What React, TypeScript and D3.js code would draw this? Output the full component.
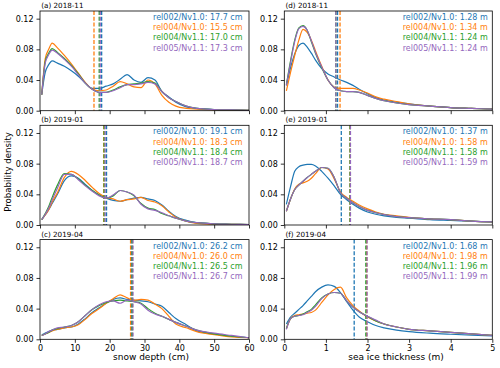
import { useEffect, useRef } from "react";
import * as d3 from "d3";

// products and colours (matplotlib tab10)
const products = ["rel002/Nv1.0", "rel004/Nv1.0", "rel004/Nv1.1", "rel005/Nv1.1"];
const COLORS = ["#1f77b4", "#ff7f0e", "#2ca02c", "#9467bd"];

// bin centres
const snowDepthBins = [0.5, 1.5, 2.5, 3.5, 5, 7, 9, 11, 13, 15, 17, 19, 21, 23, 25, 27, 29, 31, 33, 35, 37, 39, 42, 45, 50, 55, 60];
const iceThicknessBins = [0.05, 0.15, 0.25, 0.35, 0.45, 0.55, 0.65, 0.75, 0.9, 1.05, 1.2, 1.35, 1.5, 1.65, 1.8, 2.0, 2.2, 2.4, 2.7, 3.0, 3.5, 4.0, 4.5, 5.0];

// snow depth pdfs
const sd1811Rel002 = [0.021, 0.05, 0.06, 0.065, 0.062, 0.058, 0.052, 0.045, 0.036, 0.029, 0.029, 0.032, 0.035, 0.041, 0.047, 0.04, 0.037, 0.043, 0.04, 0.025, 0.018, 0.011, 0.005, 0.003, 0.0015, 0.001, 0.0005];
const sd1811Rel004 = [0.021, 0.068, 0.08, 0.088, 0.082, 0.072, 0.061, 0.049, 0.037, 0.028, 0.026, 0.027, 0.032, 0.038, 0.035, 0.031, 0.03, 0.04, 0.035, 0.02, 0.011, 0.006, 0.003, 0.002, 0.001, 0.0008, 0.0004];
const sd1811Rel004v11 = [0.021, 0.064, 0.075, 0.081, 0.076, 0.068, 0.059, 0.048, 0.036, 0.028, 0.024, 0.024, 0.027, 0.031, 0.034, 0.035, 0.036, 0.038, 0.036, 0.025, 0.017, 0.012, 0.006, 0.003, 0.0015, 0.001, 0.0005];
const sd1811Rel005 = [0.021, 0.062, 0.073, 0.079, 0.075, 0.067, 0.058, 0.047, 0.036, 0.028, 0.024, 0.024, 0.026, 0.03, 0.034, 0.034, 0.035, 0.037, 0.035, 0.025, 0.017, 0.012, 0.006, 0.003, 0.0015, 0.001, 0.0005];

const sd1901Rel002 = [0.007, 0.013, 0.02, 0.028, 0.04, 0.058, 0.064, 0.061, 0.053, 0.045, 0.039, 0.035, 0.032, 0.031, 0.033, 0.035, 0.036, 0.034, 0.032, 0.026, 0.018, 0.011, 0.006, 0.003, 0.0015, 0.001, 0.0005];
const sd1901Rel004 = [0.007, 0.013, 0.02, 0.03, 0.042, 0.062, 0.07, 0.066, 0.058, 0.049, 0.041, 0.036, 0.034, 0.031, 0.033, 0.034, 0.036, 0.032, 0.03, 0.025, 0.017, 0.01, 0.005, 0.002, 0.001, 0.0008, 0.0004];
const sd1901Rel004v11 = [0.007, 0.015, 0.024, 0.036, 0.052, 0.067, 0.066, 0.06, 0.052, 0.045, 0.039, 0.035, 0.038, 0.045, 0.043, 0.038, 0.028, 0.022, 0.02, 0.015, 0.012, 0.009, 0.005, 0.003, 0.0015, 0.001, 0.0005];
const sd1901Rel005 = [0.007, 0.014, 0.022, 0.033, 0.048, 0.066, 0.066, 0.059, 0.051, 0.044, 0.038, 0.035, 0.039, 0.045, 0.043, 0.039, 0.027, 0.021, 0.019, 0.016, 0.012, 0.009, 0.005, 0.003, 0.0015, 0.001, 0.0005];

const sd1904Rel002 = [0.006, 0.008, 0.01, 0.012, 0.013, 0.015, 0.016, 0.02, 0.027, 0.035, 0.041, 0.047, 0.052, 0.054, 0.052, 0.051, 0.05, 0.049, 0.046, 0.043, 0.035, 0.027, 0.019, 0.011, 0.007, 0.004, 0.002];
const sd1904Rel004 = [0.005, 0.007, 0.009, 0.011, 0.013, 0.015, 0.016, 0.019, 0.026, 0.034, 0.04, 0.047, 0.053, 0.058, 0.054, 0.051, 0.052, 0.051, 0.046, 0.04, 0.03, 0.02, 0.015, 0.01, 0.006, 0.003, 0.002];
const sd1904Rel004v11 = [0.005, 0.007, 0.009, 0.012, 0.014, 0.016, 0.018, 0.023, 0.031, 0.039, 0.044, 0.048, 0.05, 0.051, 0.05, 0.049, 0.047, 0.04, 0.034, 0.03, 0.026, 0.022, 0.017, 0.012, 0.007, 0.004, 0.002];
const sd1904Rel005 = [0.005, 0.007, 0.01, 0.012, 0.015, 0.016, 0.018, 0.023, 0.031, 0.039, 0.045, 0.049, 0.05, 0.047, 0.051, 0.049, 0.046, 0.038, 0.033, 0.03, 0.026, 0.022, 0.017, 0.012, 0.008, 0.005, 0.002];

// sea ice thickness pdfs
const sit1811Rel002 = [0.033, 0.056, 0.074, 0.085, 0.088, 0.083, 0.075, 0.066, 0.055, 0.048, 0.044, 0.04, 0.037, 0.033, 0.028, 0.022, 0.017, 0.014, 0.011, 0.009, 0.006, 0.004, 0.003, 0.002];
const sit1811Rel004 = [0.026, 0.05, 0.072, 0.092, 0.106, 0.102, 0.092, 0.078, 0.058, 0.04, 0.031, 0.029, 0.029, 0.029, 0.027, 0.023, 0.018, 0.015, 0.012, 0.009, 0.006, 0.004, 0.003, 0.002];
const sit1811Rel004v11 = [0.034, 0.065, 0.092, 0.108, 0.111, 0.105, 0.09, 0.075, 0.056, 0.04, 0.03, 0.026, 0.025, 0.025, 0.024, 0.02, 0.016, 0.013, 0.01, 0.008, 0.006, 0.004, 0.003, 0.002];
const sit1811Rel005 = [0.033, 0.063, 0.09, 0.107, 0.11, 0.105, 0.091, 0.076, 0.057, 0.04, 0.03, 0.026, 0.025, 0.025, 0.024, 0.02, 0.016, 0.013, 0.01, 0.008, 0.006, 0.004, 0.003, 0.002];

const sit1901Rel002 = [0.027, 0.05, 0.07, 0.076, 0.078, 0.079, 0.079, 0.077, 0.07, 0.061, 0.051, 0.04, 0.033, 0.027, 0.022, 0.017, 0.014, 0.012, 0.01, 0.009, 0.007, 0.006, 0.005, 0.004];
const sit1901Rel004 = [0.018, 0.034, 0.047, 0.053, 0.055, 0.057, 0.061, 0.067, 0.075, 0.073, 0.06, 0.043, 0.036, 0.031, 0.026, 0.021, 0.017, 0.014, 0.012, 0.01, 0.008, 0.007, 0.005, 0.004];
const sit1901Rel004v11 = [0.018, 0.034, 0.046, 0.052, 0.057, 0.062, 0.066, 0.07, 0.075, 0.074, 0.062, 0.042, 0.035, 0.029, 0.024, 0.019, 0.016, 0.0135, 0.011, 0.0095, 0.008, 0.007, 0.005, 0.004];
const sit1901Rel005 = [0.018, 0.034, 0.046, 0.052, 0.057, 0.062, 0.066, 0.07, 0.075, 0.074, 0.062, 0.042, 0.035, 0.029, 0.024, 0.019, 0.016, 0.0135, 0.011, 0.0095, 0.008, 0.007, 0.005, 0.004];

const sit1904Rel002 = [0.02, 0.029, 0.034, 0.039, 0.044, 0.05, 0.056, 0.062, 0.068, 0.071, 0.069, 0.061, 0.049, 0.038, 0.029, 0.023, 0.018, 0.015, 0.012, 0.01, 0.008, 0.0066, 0.0054, 0.0044];
const sit1904Rel004 = [0.014, 0.027, 0.031, 0.032, 0.033, 0.034, 0.035, 0.038, 0.048, 0.058, 0.065, 0.068, 0.054, 0.044, 0.037, 0.029, 0.024, 0.02, 0.016, 0.013, 0.011, 0.009, 0.007, 0.005];
const sit1904Rel004v11 = [0.014, 0.027, 0.03, 0.031, 0.033, 0.036, 0.039, 0.045, 0.054, 0.059, 0.061, 0.06, 0.05, 0.042, 0.036, 0.03, 0.024, 0.02, 0.016, 0.013, 0.011, 0.009, 0.007, 0.005];
const sit1904Rel005 = [0.013, 0.027, 0.03, 0.031, 0.032, 0.035, 0.038, 0.043, 0.053, 0.059, 0.061, 0.06, 0.05, 0.042, 0.036, 0.03, 0.025, 0.02, 0.016, 0.013, 0.011, 0.009, 0.007, 0.005];

// means (dashed lines + legend)
const sdMeans1811 = [17.7, 15.5, 17.0, 17.3];
const sdMeans1901 = [19.1, 18.3, 18.4, 18.7];
const sdMeans1904 = [26.2, 26.0, 26.5, 26.7];
const sitMeans1811 = [1.28, 1.34, 1.24, 1.24];
const sitMeans1901 = [1.37, 1.58, 1.58, 1.59];
const sitMeans1904 = [1.68, 1.98, 1.96, 1.99];

const titles = ["(a) 2018-11", "(b) 2019-01", "(c) 2019-04", "(d) 2018-11", "(e) 2019-01", "(f) 2019-04"];
const yTicks = [0, 0.04, 0.08, 0.12];
const sdTicks = [0, 10, 20, 30, 40, 50, 60];
const sitTicks = [0, 1, 2, 3, 4, 5];

const panels = [
  { col: 0, row: 0, series: [sd1811Rel002, sd1811Rel004, sd1811Rel004v11, sd1811Rel005], means: sdMeans1811 },
  { col: 0, row: 1, series: [sd1901Rel002, sd1901Rel004, sd1901Rel004v11, sd1901Rel005], means: sdMeans1901 },
  { col: 0, row: 2, series: [sd1904Rel002, sd1904Rel004, sd1904Rel004v11, sd1904Rel005], means: sdMeans1904 },
  { col: 1, row: 0, series: [sit1811Rel002, sit1811Rel004, sit1811Rel004v11, sit1811Rel005], means: sitMeans1811 },
  { col: 1, row: 1, series: [sit1901Rel002, sit1901Rel004, sit1901Rel004v11, sit1901Rel005], means: sitMeans1901 },
  { col: 1, row: 2, series: [sit1904Rel002, sit1904Rel004, sit1904Rel004v11, sit1904Rel005], means: sitMeans1904 },
];

const FONT = "DejaVu Sans";
const colLeft = [40, 284.3];
const colWidth = [209, 208];
const rowTop = [11, 125.3, 239.6];
const rowHeight = 99.7;
const legendRight = [6.5, 4.5];

export default function App() {
  const svgRef = useRef<SVGSVGElement>(null);

  useEffect(() => {
    if (!svgRef.current) return;
    const svg = d3.select(svgRef.current);
    svg.selectAll("*").remove();

    panels.forEach((p, i) => {
      const x0 = colLeft[p.col];
      const y0 = rowTop[p.row];
      const w = colWidth[p.col];
      const bins = p.col === 0 ? snowDepthBins : iceThicknessBins;

      const x = d3.scaleLinear().domain(p.col === 0 ? [0, 60] : [0, 5]).range([x0, x0 + w]);
      const y = d3.scaleLinear().domain([0, 0.13]).range([y0 + rowHeight, y0]);

      const g = svg.append("g");
      const clipId = `clip-${i}`;
      g.append("clipPath").attr("id", clipId)
        .append("rect").attr("x", x0).attr("y", y0).attr("width", w).attr("height", rowHeight);

      const plot = g.append("g").attr("clip-path", `url(#${clipId})`);
      p.series.forEach((vals, k) => {
        const line = d3.line<number>()
          .x((_, j) => x(bins[j]))
          .y((d) => y(d))
          .curve(d3.curveMonotoneX);
        plot.append("path")
          .attr("d", line(vals))
          .attr("fill", "none")
          .attr("stroke", COLORS[k])
          .attr("stroke-width", 1.2);
        plot.append("line")
          .attr("x1", x(p.means[k])).attr("x2", x(p.means[k]))
          .attr("y1", y0).attr("y2", y0 + rowHeight)
          .attr("stroke", COLORS[k])
          .attr("stroke-width", 1.3)
          .attr("stroke-dasharray", "4,1.8");
      });

      // axes
      const xAxis = d3.axisBottom(x)
        .tickValues(p.col === 0 ? sdTicks : sitTicks)
        .tickSize(3.5)
        .tickPadding(3)
        .tickFormat(p.row === 2 ? d3.format("d") : () => "");
      const gx = g.append("g").attr("transform", `translate(0,${y0 + rowHeight})`).call(xAxis);
      const yAxis = d3.axisLeft(y).tickValues(yTicks).tickSize(3.5).tickPadding(3).tickFormat(d3.format(".2f"));
      const gy = g.append("g").attr("transform", `translate(${x0},0)`).call(yAxis);
      [gx, gy].forEach((a) => {
        a.select(".domain").remove();
        a.selectAll("line").attr("stroke", "#000").attr("stroke-width", 0.8);
        a.selectAll("text").attr("font-family", FONT).attr("font-size", 8).attr("fill", "#000");
      });

      g.append("rect")
        .attr("x", x0).attr("y", y0).attr("width", w).attr("height", rowHeight)
        .attr("fill", "none").attr("stroke", "#000").attr("stroke-width", 0.8);

      g.append("text")
        .attr("x", x0 + 1.2).attr("y", y0 - 3)
        .attr("font-family", FONT).attr("font-size", 7.2)
        .text(titles[i]);

      // legend (text only)
      const unit = p.col === 0 ? "cm" : "m";
      products.forEach((name, k) => {
        g.append("text")
          .attr("x", x0 + w - legendRight[p.col])
          .attr("y", y0 + 9 + k * 10.2)
          .attr("text-anchor", "end")
          .attr("font-family", FONT).attr("font-size", 8)
          .attr("fill", COLORS[k])
          .text(`${name}: ${p.means[k].toFixed(p.col === 0 ? 1 : 2)} ${unit}`);
      });
    });

    svg.append("text")
      .attr("transform", `translate(11,172) rotate(-90)`)
      .attr("text-anchor", "middle")
      .attr("font-family", FONT).attr("font-size", 8.6)
      .text("Probability density");

    svg.append("text")
      .attr("x", 151).attr("y", 360)
      .attr("text-anchor", "middle")
      .attr("font-family", FONT).attr("font-size", 9)
      .text("snow depth (cm)");

    svg.append("text")
      .attr("x", 396).attr("y", 360)
      .attr("text-anchor", "middle")
      .attr("font-family", FONT).attr("font-size", 9)
      .text("sea ice thickness (m)");
  }, []);

  return (
    <svg
      ref={svgRef}
      width={500}
      height={368}
      style={{ position: "absolute", left: 0, top: 0, background: "#fff" }}
    />
  );
}
